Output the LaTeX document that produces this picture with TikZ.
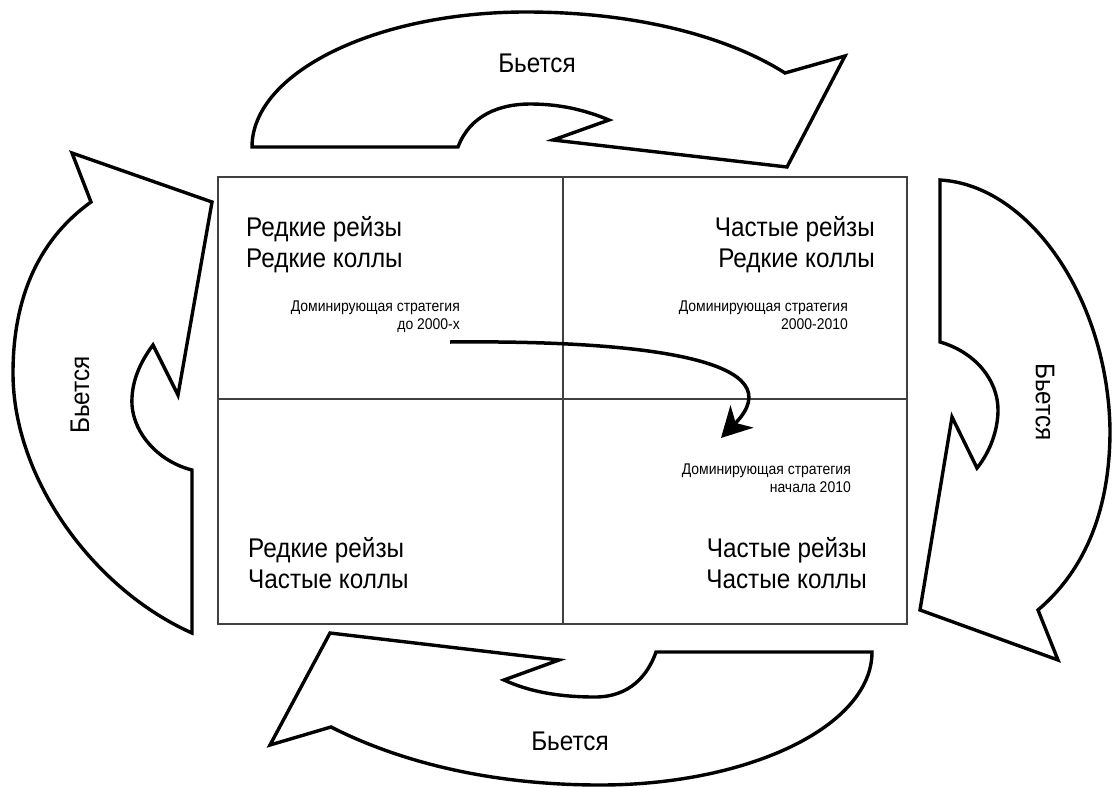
\documentclass[tikz,border=0pt]{standalone}
\usepackage{fontspec}
\setmainfont{Liberation Sans}
\newfontfamily\etroit[FakeStretch=0.9]{Liberation Sans}
\usetikzlibrary{arrows.meta}

\begin{document}
\begin{tikzpicture}[x=1pt,y=-1pt,
    fleche/.style={line width=3.4pt, line join=miter, fill=white},
    grille/.style={line width=1.8pt, draw=black!75},
    gros/.style={font=\etroit\fontsize{27}{31}\selectfont, inner sep=0pt},
    petit/.style={font=\etroit\fontsize{15.5}{18}\selectfont, inner sep=0pt}]
            \fill[white] (0,0) rectangle (1113,787);
            \useasboundingbox (0,0) rectangle (1113,787);

            % Cadre et quadrants
            \coordinate (A) at (218,177);
            \coordinate (B) at (907,177);
            \coordinate (C) at (907,624);
            \coordinate (D) at (218,624);
            \coordinate (H) at (563,177);
            \coordinate (K) at (563,624);
            \coordinate (G) at (218,399);
            \coordinate (R) at (907,399);
            \draw[grille] (A) -- (B) -- (C) -- (D) -- cycle;
            \draw[grille] (H) -- (K);
            \draw[grille] (G) -- (R);

            % Textes des quadrants
            \node[gros, anchor=north west, align=left] (hg) at (246,216) {Редкие рейзы\\Редкие коллы};
            \node[gros, anchor=north east, align=right] (hd) at (875,216) {Частые рейзы\\Редкие коллы};
            \node[gros, anchor=north west, align=left] (bg) at (248,537) {Редкие рейзы\\Частые коллы};
            \node[gros, anchor=north east, align=right] (bd) at (867,537) {Частые рейзы\\Частые коллы};
            \node[petit, anchor=north east, align=right] (s1) at (460,301) {Доминирующая стратегия\\до 2000-х};
            \node[petit, anchor=north east, align=right] (s2) at (848,301) {Доминирующая стратегия\\2000-2010};
            \node[petit, anchor=north east, align=right] (s3) at (851,464) {Доминирующая стратегия\\начала 2010};

            % Fleche de la strategie
            \coordinate (depart) at (450,342);
            \coordinate (arrivee) at (721,438);
            \draw[line width=3.5pt, -{Stealth[length=30pt,width=32pt,inset=9pt]}]
                (depart) .. controls (655,340) and (795,362) .. (arrivee);

            % Grande fleche du haut
            \draw[fleche] (252,147) -- (458,147)
                .. controls (470,115) and (500,104) .. (530,104)
                .. controls (560,104) and (585,110) .. (609,120)
                -- (553,140) -- (787,167) -- (845,56) -- (785,73)
                .. controls (730,38) and (640,12) .. (526,12)
                .. controls (375,12) and (252,73) .. (252,147) -- cycle;
            \node[gros] (haut) at (537,63) {Бьется};

            % Grande fleche de droite
            \draw[fleche] (940,180) -- (940,342)
                .. controls (975,352) and (998,380) .. (998,410)
                .. controls (998,430) and (990,452) .. (977,468)
                -- (952,417) -- (920,610) -- (1058,660) -- (1038,610)
                .. controls (1085,570) and (1110,510) .. (1110,430)
                .. controls (1108,300) and (1030,185) .. (940,180) -- cycle;
            \node[gros, rotate=-90] (droite) at (1045,402) {Бьется};

            % Grande fleche du bas
            \draw[fleche] (330,633) -- (559,660) -- (504,680)
                .. controls (530,692) and (560,697) .. (595,697)
                .. controls (630,697) and (648,675) .. (656,652)
                -- (872,652)
                .. controls (872,726) and (749,785) .. (600,785)
                .. controls (486,785) and (396,760) .. (331,727)
                -- (270,745) -- cycle;
            \node[gros] (bas) at (570,741) {Бьется};

            % Grande fleche de gauche
            \draw[fleche] (72,153) -- (212,202) -- (178,395) -- (153,345)
                .. controls (138,365) and (131,385) .. (132,405)
                .. controls (134,435) and (160,462) .. (192,470)
                -- (192,633)
                .. controls (95,590) and (13,480) .. (13,373)
                .. controls (13,280) and (52,230) .. (91,202) -- cycle;
            \node[gros, rotate=90] (gauche) at (80,395) {Бьется};
        \end{tikzpicture}
\end{document}
